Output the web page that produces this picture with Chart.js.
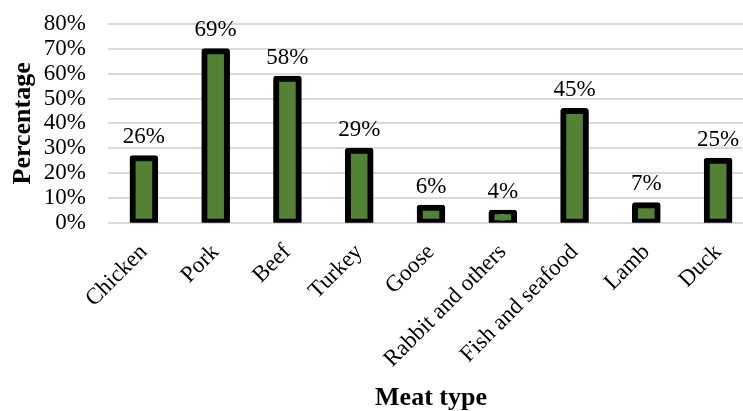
<!DOCTYPE html>
<html>
<head>
<meta charset="utf-8">
<script src="https://cdn.jsdelivr.net/npm/chart.js@4/dist/chart.umd.min.js"></script>
<style>
  html, body { margin: 0; padding: 0; background: #fff; overflow: hidden; }
  #wrap { width: 756px; height: 411px; position: relative; }
</style>
</head>
<body>
<div id="wrap"><canvas id="meat-chart"></canvas></div>
<script>
const categories = ['Chicken', 'Pork', 'Beef', 'Turkey', 'Goose', 'Rabbit and others', 'Fish and seafood', 'Lamb', 'Duck'];
const percentages = [26, 69, 58, 29, 6, 4, 45, 7, 25];
const yTicks = [0, 10, 20, 30, 40, 50, 60, 70, 80];

const SERIF = '"Liberation Serif", "Times New Roman", serif';

// draws the value above each bar
const barLabels = {
    id: 'barLabels',
    afterDatasetsDraw(chart) {
        const ctx = chart.ctx;
        const meta = chart.getDatasetMeta(0);
        ctx.save();
        ctx.font = '23px ' + SERIF;
        ctx.fillStyle = '#000';
        ctx.textAlign = 'center';
        ctx.textBaseline = 'alphabetic';
        meta.data.forEach((bar, i) => {
            ctx.fillText(percentages[i] + '%', bar.x, bar.y - 15);
        });
        ctx.restore();
    }
};

new Chart(document.getElementById('meat-chart'), {
    type: 'bar',
    data: {
        labels: categories,
        datasets: [{
            data: percentages,
            backgroundColor: '#548235',
            borderColor: '#000',
            borderWidth: 6,
            borderRadius: 3,
            borderSkipped: false,
            inflateAmount: 3, // border straddles the bar edge, as in the original
            barPercentage: 0.315,
            categoryPercentage: 1
        }]
    },
    options: {
        responsive: true,
        maintainAspectRatio: false,
        animation: false,
        layout: { padding: { top: 24, left: 8, right: 2, bottom: 0 } },
        plugins: {
            legend: { display: false },
            tooltip: { enabled: false }
        },
        scales: {
            x: {
                grid: { display: false },
                border: { display: false },
                // rotated first label may hang into the y axis area, like the original
                afterFit(scale) {
                    scale.paddingLeft = 0;
                    scale.paddingRight = 0;
                },
                ticks: {
                    color: '#000',
                    font: { family: SERIF, size: 23 },
                    minRotation: 45,
                    maxRotation: 45,
                    autoSkip: false,
                    padding: 8
                },
                title: {
                    display: true,
                    text: 'Meat type',
                    color: '#000',
                    font: { family: SERIF, size: 26, weight: 'bold', lineHeight: 1 },
                    padding: { top: 4, bottom: 0 }
                }
            },
            y: {
                min: 0,
                max: 80,
                grid: { color: '#d9d9d9', lineWidth: 2, drawTicks: false },
                border: { display: false },
                afterBuildTicks(scale) {
                    scale.ticks = yTicks.map(v => ({ value: v }));
                },
                // chart.js reserves the tick padding twice; trim it back
                afterFit(scale) {
                    scale.width = 100;
                    scale.paddingTop = 12;
                    scale.paddingBottom = 12;
                },
                ticks: {
                    color: '#000',
                    font: { family: SERIF, size: 23, lineHeight: 1 },
                    padding: 22,
                    autoSkip: false,
                    callback: v => v + '%'
                },
                title: {
                    display: true,
                    text: 'Percentage',
                    color: '#000',
                    font: { family: SERIF, size: 26, weight: 'bold' },
                    padding: { top: 0, bottom: 4 }
                }
            }
        }
    },
    plugins: [barLabels]
});
</script>
</body>
</html>
